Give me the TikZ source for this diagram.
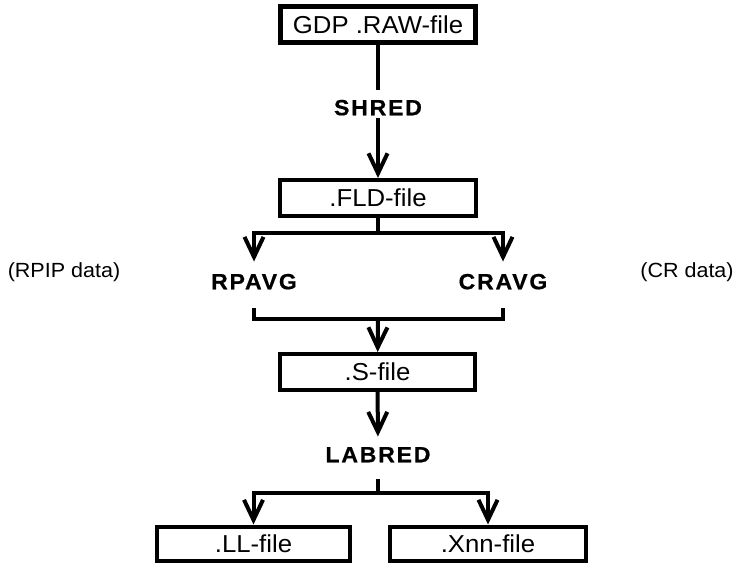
\documentclass[tikz,border=0pt]{standalone}
\usepackage{fontspec}
\setmainfont{Liberation Sans}[FakeStretch=1.05]
\usetikzlibrary{arrows.meta}
\tikzset{
  filebox/.style={draw, line width=4pt, inner sep=0pt, minimum width=196pt, minimum height=36pt,
    font=\fontsize{24.5}{29}\selectfont},
  lbl/.style={inner sep=0pt, text height=15.5pt, text depth=0pt,
    font=\fontsize{22}{26}\selectfont\bfseries\addfontfeatures{LetterSpace=8,FakeBold=0.6}},
  side/.style={inner sep=0pt, font=\fontsize{20.5}{24}\selectfont},
  conn/.style={line width=4pt},
  arr/.style={conn, -{Straight Barb[length=20pt, width=19pt]}}
}
\begin{document}
\begin{tikzpicture}[x=1pt, y=-1pt]
\fill[white] (0,0) rectangle (738,563);
\useasboundingbox (0,0) rectangle (738,563);

\node[filebox, line width=5pt, minimum width=195pt] (gdp) at (378,24.5) {GDP .RAW-file};
\node[lbl] (shred) at (378,107.5) {SHRED};
\node[filebox] (fld) at (378,198) {.FLD-file};
\node[lbl] (rpavg) at (254,281.5) {RPAVG};
\node[lbl] (cravg) at (503,281.5) {CRAVG};
\node[side] (rpip) at (64,272) {(RPIP data)};
\node[side] (crdata) at (687,272) {(CR data)};
\node[filebox, minimum width=195pt] (sfile) at (377.5,372) {.S-file};
\node[lbl] (labred) at (378,454.5) {LABRED};
\node[filebox, minimum width=193pt, minimum height=34pt] (ll) at (253.5,543.5) {.LL-file};
\node[filebox, minimum width=196pt, minimum height=34pt] (xnn) at (488,543.5) {.Xnn-file};

\coordinate (s1) at (378,233);
\coordinate (m1) at (378,319);
\coordinate (m2) at (378,493);

\draw[conn, shorten >=10pt] (gdp) -- (shred);
\draw[arr, shorten <=3pt] (shred) -- (fld);

\draw[conn] (fld) -- (s1);
\draw[arr, shorten >=12pt] (s1) -| (rpavg);
\draw[arr, shorten >=12pt] (s1) -| (cravg);

\draw[conn] ([yshift=-19pt]rpavg.south) |- (m1) -| ([yshift=-19pt]cravg.south);
\draw[arr] (m1) -- (sfile);

\draw[arr, shorten >=10pt] (sfile) -- (labred);
\draw[conn, shorten <=17pt] (labred) -- (m2);
\draw[arr] (m2) -| (ll);
\draw[arr] (m2) -| (xnn);
\end{tikzpicture}
\end{document}
